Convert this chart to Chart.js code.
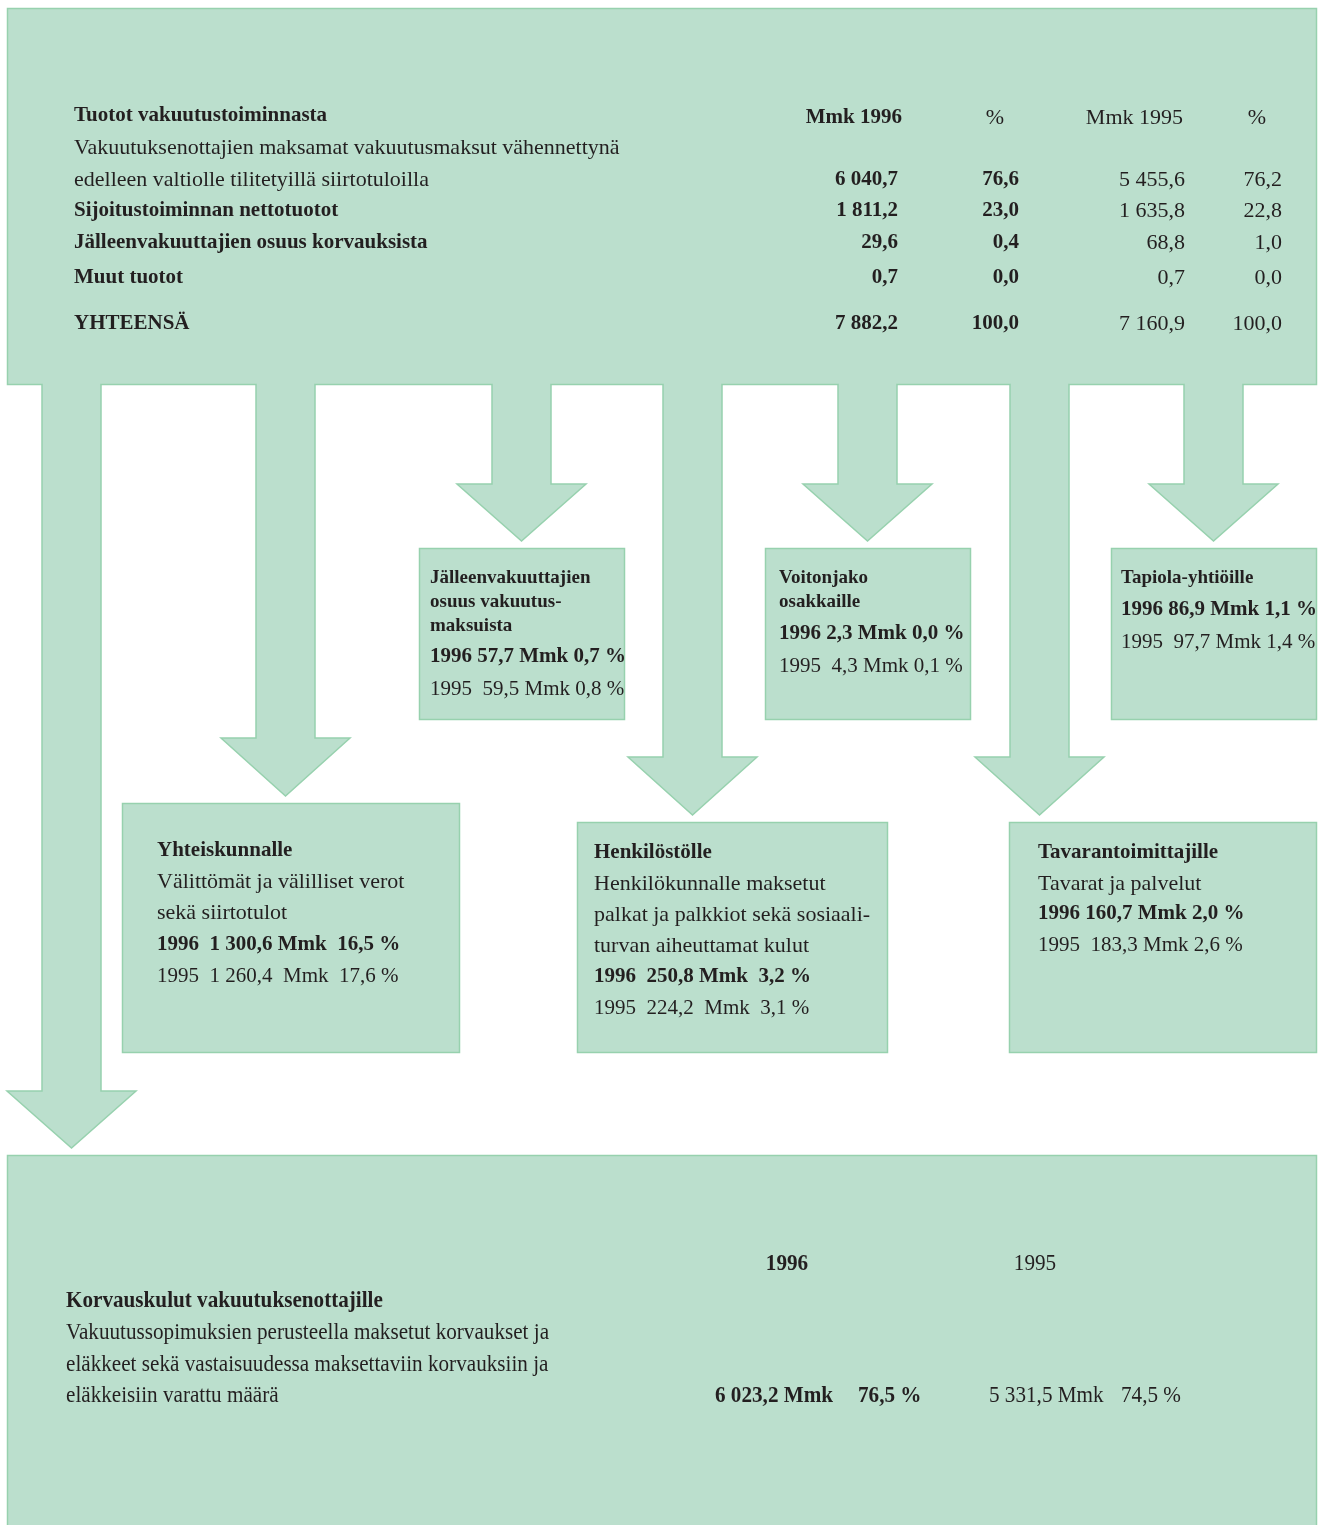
<!DOCTYPE html>
<html>
<head>
<meta charset="utf-8">
<script src="https://cdn.jsdelivr.net/npm/chart.js@4"></script>
<style>
  body { margin: 0; background: #fff; }
  canvas { display: block; }
</style>
</head>
<body>
<canvas id="flow" width="1324" height="1525"></canvas>
<script>
// Income table (top box)
var incomeTitle = 'Tuotot vakuutustoiminnasta';
var columnHeads = ['Mmk 1996', '%', 'Mmk 1995', '%'];
var incomeRows = [
  ['Vakuutuksenottajien maksamat vakuutusmaksut vähennettynä', 'edelleen valtiolle tilitetyillä siirtotuloilla'],
  ['Sijoitustoiminnan nettotuotot'],
  ['Jälleenvakuuttajien osuus korvauksista'],
  ['Muut tuotot'],
  ['YHTEENSÄ']
];
var mmk1996 = [6040.7, 1811.2, 29.6, 0.7, 7882.2];
var pct1996 = [76.6, 23.0, 0.4, 0.0, 100.0];
var mmk1995 = [5455.6, 1635.8, 68.8, 0.7, 7160.9];
var pct1995 = [76.2, 22.8, 1.0, 0.0, 100.0];

// Where the money goes
var outTitles = [
  ['Jälleenvakuuttajien', 'osuus vakuutus-', 'maksuista'],
  ['Voitonjako', 'osakkaille'],
  ['Tapiola-yhtiöille'],
  ['Yhteiskunnalle'],
  ['Henkilöstölle'],
  ['Tavarantoimittajille'],
  ['Korvauskulut vakuutuksenottajille']
];
var outTexts = [
  [],
  [],
  [],
  ['Välittömät ja välilliset verot', 'sekä siirtotulot'],
  ['Henkilökunnalle maksetut', 'palkat ja palkkiot sekä sosiaali-', 'turvan aiheuttamat kulut'],
  ['Tavarat ja palvelut'],
  ['Vakuutussopimuksien perusteella maksetut korvaukset ja', 'eläkkeet sekä vastaisuudessa maksettaviin korvauksiin ja', 'eläkkeisiin varattu määrä']
];
var outMmk1996 = [57.7, 2.3, 86.9, 1300.6, 250.8, 160.7, 6023.2];
var outPct1996 = [0.7, 0.0, 1.1, 16.5, 3.2, 2.0, 76.5];
var outMmk1995 = [59.5, 4.3, 97.7, 1260.4, 224.2, 183.3, 5331.5];
var outPct1995 = [0.8, 0.1, 1.4, 17.6, 3.1, 2.6, 74.5];
var years = ['1996', '1995'];

// layout (picture units)
var topBox = [7, 8, 1316, 384];
var bottomBox = [7, 1155, 1316, 1530];
var boxes = [
  { r: [419, 548, 624, 719], tx: 430, ty: 578, tStep: 24, tSize: 19, vy: 657, sp: 1 },
  { r: [765, 548, 970, 719], tx: 779, ty: 578, tStep: 24, tSize: 19, vy: 634, sp: 1 },
  { r: [1111, 548, 1316, 719], tx: 1121, ty: 578, tStep: 24, tSize: 19, vy: 610, sp: 1 },
  { r: [122, 803, 459, 1052], tx: 157, ty: 851, tStep: 31, tSize: 21, vy: 945, sp: 2 },
  { r: [577, 822, 887, 1052], tx: 594, ty: 853, tStep: 31, tSize: 21, vy: 977, sp: 2 },
  { r: [1009, 822, 1316, 1052], tx: 1038, ty: 853, tStep: 31, tSize: 21, vy: 914, sp: 1 }
];
// arrows: shaft left, shaft right, top, head start y, tip y
var arrows = [
  [42, 101, 384, 1091, 1148],
  [256, 315, 384, 738, 796],
  [492, 551, 384, 484, 541],
  [663, 722, 384, 757, 815],
  [838, 897, 384, 484, 541],
  [1010, 1069, 384, 757, 815],
  [1184, 1243, 384, 484, 541]
];
var FILL = '#bbdfcd';
var EDGE = '#97d1ae';
var INK = '#231f20';
var FONT = '"Liberation Serif", serif';

function fmt(v) {
  var p = v.toFixed(1).split('.');
  return p[0].replace(/\B(?=(\d{3})+(?!\d))/g, ' ') + ',' + p[1];
}

var flowPlugin = {
  id: 'flow',
  afterDraw: function(chart) {
    var ctx = chart.ctx;
    var sx = chart.scales.x, sy = chart.scales.y;
    var X = function(v) { return sx.getPixelForValue(v); };
    var Y = function(v) { return sy.getPixelForValue(v); };

    function rect(r) {
      ctx.beginPath();
      ctx.rect(X(r[0]) + 0.5, Y(r[1]) + 0.5, X(r[2]) - X(r[0]), Y(r[3]) - Y(r[1]));
      ctx.fillStyle = FILL; ctx.fill();
      ctx.strokeStyle = EDGE; ctx.lineWidth = 1.5; ctx.stroke();
    }
    function text(s, x, y, size, bold, align, squeeze) {
      ctx.save();
      ctx.font = (bold ? 'bold ' : '') + size + 'px ' + FONT;
      ctx.fillStyle = INK;
      ctx.textBaseline = 'middle';
      ctx.textAlign = align || 'left';
      ctx.translate(X(x), Y(y));
      if (squeeze) ctx.scale(squeeze, 1);
      ctx.fillText(s, 0, 0);
      ctx.restore();
    }

    ctx.save();
    rect(topBox);
    rect(bottomBox);
    boxes.forEach(function(b) { rect(b.r); });

    arrows.forEach(function(a) {
      var l = X(a[0]), r = X(a[1]), t = Y(a[2]), h = Y(a[3]), tip = Y(a[4]);
      var w = r - l, mid = (l + r) / 2;
      ctx.beginPath();
      ctx.moveTo(l, t);
      ctx.lineTo(l, h);
      ctx.lineTo(mid - (w / 2 + 35), h);
      ctx.lineTo(mid, tip);
      ctx.lineTo(mid + (w / 2 + 35), h);
      ctx.lineTo(r, h);
      ctx.lineTo(r, t);
      ctx.fillStyle = FILL; ctx.fill();
      ctx.strokeStyle = EDGE; ctx.lineWidth = 1.5; ctx.stroke();
      // join shaft with the top box
      ctx.fillStyle = FILL;
      ctx.fillRect(l + 1, t - 3, w - 2, 5);
    });
    ctx.restore();

    // top table
    text(incomeTitle, 74, 116, 21, true);
    text(columnHeads[0], 902, 118, 21, true, 'right');
    text(columnHeads[1], 995, 118, 22, false, 'center');
    text(columnHeads[2], 1183, 118, 22, false, 'right');
    text(columnHeads[3], 1257, 118, 22, false, 'center');
    var rowY = [[148, 180], [211], [243], [278], [324]];
    incomeRows.forEach(function(lines, i) {
      lines.forEach(function(s, k) {
        text(s, 74, rowY[i][k], i > 0 ? 21 : 22, i > 0);
      });
      var vy = rowY[i][rowY[i].length - 1];
      text(fmt(mmk1996[i]), 898, vy, 21, true, 'right');
      text(fmt(pct1996[i]), 1019, vy, 21, true, 'right');
      text(fmt(mmk1995[i]), 1185, vy, 22, false, 'right');
      text(fmt(pct1995[i]), 1282, vy, 22, false, 'right');
    });

    // outflow boxes
    boxes.forEach(function(b, i) {
      var y = b.ty;
      outTitles[i].forEach(function(s) { text(s, b.tx, y, b.tSize, true); y += b.tStep; });
      outTexts[i].forEach(function(s) { text(s, b.tx, y, 22, false); y += 31; });
      var gap = b.sp > 1 ? '  ' : ' ';
      var step = b.tSize < 21 ? 32 : 31;
      text(years[0] + gap + fmt(outMmk1996[i]) + ' Mmk' + gap + fmt(outPct1996[i]) + ' %', b.tx, b.vy, 21, true);
      text(years[1] + '  ' + fmt(outMmk1995[i]) + gap + 'Mmk' + gap + fmt(outPct1995[i]) + ' %', b.tx, b.vy + step, 21, false);
    });

    // bottom box
    var q = 0.92;
    text(years[0], 787, 1264, 23, true, 'center', q);
    text(years[1], 1035, 1264, 23, false, 'center', q);
    text(outTitles[6][0], 66, 1301, 23, true, 'left', q);
    outTexts[6].forEach(function(s, k) { text(s, 66, 1333 + k * 31.5, 23, false, 'left', q); });
    text(fmt(outMmk1996[6]) + ' Mmk', 715, 1396, 23, true, 'left', q);
    text(fmt(outPct1996[6]) + ' %', 858, 1396, 23, true, 'left', q);
    text(fmt(outMmk1995[6]) + ' Mmk', 989, 1396, 23, false, 'left', q);
    text(fmt(outPct1995[6]) + ' %', 1121, 1396, 23, false, 'left', q);
  }
};

new Chart(document.getElementById('flow'), {
  type: 'scatter',
  data: { datasets: [{ data: [] }] },
  options: {
    responsive: false,
    animation: false,
    layout: { padding: 0 },
    plugins: { legend: { display: false }, tooltip: { enabled: false } },
    scales: {
      x: { type: 'linear', min: 0, max: 1324, display: false },
      y: { type: 'linear', min: 0, max: 1525, reverse: true, display: false }
    }
  },
  plugins: [flowPlugin]
});
</script>
</body>
</html>
